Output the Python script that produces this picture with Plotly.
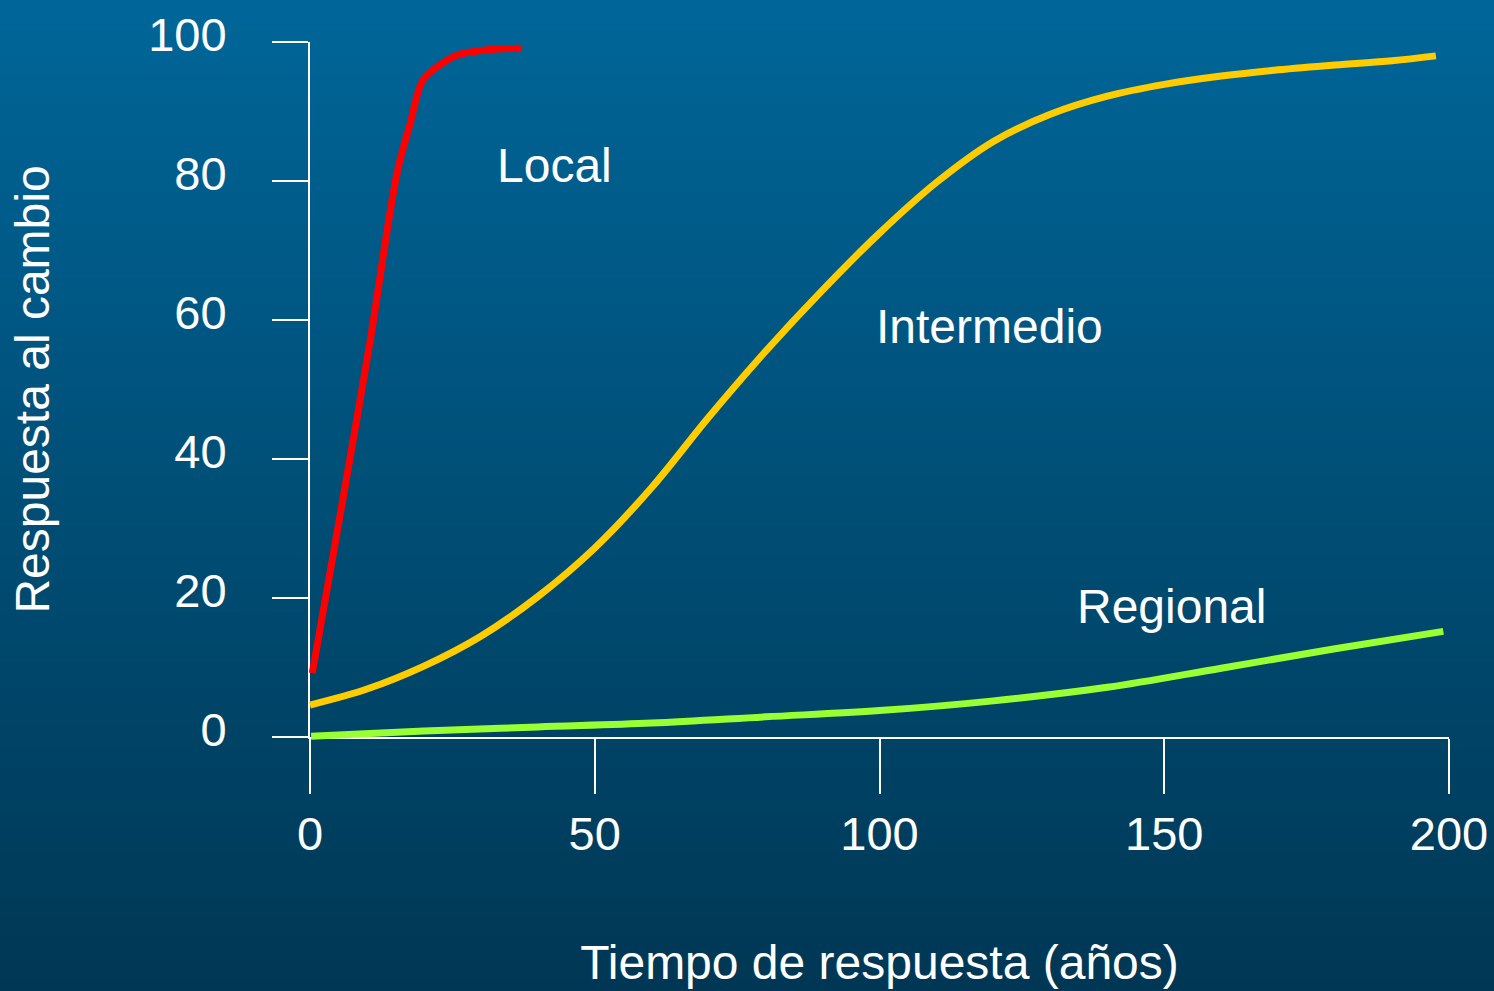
import plotly.graph_objects as go

# ---------------- data ----------------
local_x = [0.4, 5, 10.5, 15.3, 17.6, 19.8, 22.3, 25.8, 30.4, 37.2]
local_y = [9.2, 30.6, 56.7, 81.2, 88.3, 94.5, 96.4, 98.1, 98.8, 99.1]

inter_x = [0, 10, 20, 30, 40, 50, 60, 70, 80, 90, 100, 110, 120, 130, 140,
           150, 160, 170, 180, 190, 197.7]
inter_y = [4.6, 6.9, 10.2, 14.5, 20.2, 27.2, 35.9, 46.0, 55.5, 64.3, 72.5, 79.8,
           85.7, 89.6, 92.2, 93.9, 95.1, 96.0, 96.7, 97.3, 98.0]

reg_x = [0.2, 20, 40, 60, 80, 100, 120, 140, 160, 180, 199]
reg_y = [0.1, 0.85, 1.45, 2.0, 2.9, 3.8, 5.2, 7.15, 9.9, 12.7, 15.2]

x_ticks = [0, 50, 100, 150, 200]
y_ticks = [0, 20, 40, 60, 80, 100]

labels = ["Local", "Intermedio", "Regional"]
label_x = [43.0, 119.3, 151.2]
label_y = [82.3, 59.1, 18.8]

x_title = "Tiempo de respuesta (años)"
y_title = "Respuesta al cambio"

# ---------------- layout geometry ----------------
W, H = 1494, 991
ax_left, ax_right = 310, 1449     # pixel of x=0 and x=200
ax_top, ax_bottom = 42, 737       # pixel of y=100 and y=0
pad = 20                          # extra room so thick lines are not clipped
ml, mr, mt, mb = ax_left - pad, W - ax_right - pad, ax_top - pad, H - ax_bottom - pad
pw, ph = W - ml - mr, H - mt - mb

xr = (0, 200)
yr = (0, 100)
xs = (ax_right - ax_left) / (xr[1] - xr[0])
ys = (ax_bottom - ax_top) / (yr[1] - yr[0])

FONT = "Liberation Sans, Arial, sans-serif"
WHITE = "#FFFFFF"

fig = go.Figure()

line_w = 7
for xv, yv, col in [(local_x, local_y, "#FF0000"),
                    (inter_x, inter_y, "#FFCC00"),
                    (reg_x, reg_y, "#99FF33")]:
    fig.add_trace(go.Scatter(x=xv, y=yv, mode="lines", xaxis="x2", yaxis="y2",
                             line=dict(color=col, width=line_w, shape="spline", smoothing=1.0),
                             hoverinfo="skip", showlegend=False))

# background gradient
top_c = (0, 102, 153)
bot_c = (0, 55, 84)
N = 160
shapes = []
for k in range(N):
    py0 = k * H / N
    py1 = (k + 1) * H / N + 0.8
    t = (k + 0.5) / N
    c = tuple(round(top_c[i] + (bot_c[i] - top_c[i]) * t) for i in range(3))
    shapes.append(dict(type="rect", xref="paper", yref="paper", layer="below",
                       x0=-1, x1=2,
                       y0=(H - mb - py1) / ph, y1=(H - mb - py0) / ph,
                       fillcolor="rgb(%d,%d,%d)" % c, line=dict(width=0)))

annotations = [dict(x=lx, y=ly, xref="x", yref="y", text=t, showarrow=False,
                    font=dict(family=FONT, size=48, color=WHITE),
                    xanchor="center", yanchor="middle")
               for t, lx, ly in zip(labels, label_x, label_y)]

fig.update_layout(
    width=W, height=H,
    margin=dict(l=ml, r=mr, t=mt, b=mb, autoexpand=False),
    paper_bgcolor="rgb(0,80,120)",
    plot_bgcolor="rgba(0,0,0,0)",
    shapes=shapes,
    annotations=annotations,
    showlegend=False,
    xaxis=dict(domain=[(ax_left - ml) / pw, (ax_right - ml) / pw], range=list(xr),
               anchor="y", showgrid=False, zeroline=False,
               showline=True, linecolor=WHITE, linewidth=2,
               ticks="outside", ticklen=55, tickwidth=1.5, tickcolor=WHITE,
               tickvals=x_ticks, ticktext=[str(v) for v in x_ticks],
               ticklabelstandoff=0,
               tickfont=dict(family=FONT, size=47, color=WHITE),
               title=dict(text=x_title, standoff=86,
                          font=dict(family=FONT, size=48, color=WHITE)),
               fixedrange=True),
    yaxis=dict(domain=[(H - mb - ax_bottom) / ph, (H - mb - ax_top) / ph], range=list(yr),
               anchor="x", showgrid=False, zeroline=False,
               showline=True, linecolor=WHITE, linewidth=2,
               ticks="outside", ticklen=36, tickwidth=1.5, tickcolor=WHITE,
               tickvals=y_ticks, ticktext=[str(v) for v in y_ticks],
               ticklabelstandoff=36, ticklabelshift=-7,
               tickfont=dict(family=FONT, size=47, color=WHITE),
               title=dict(text=y_title, standoff=83,
                          font=dict(family=FONT, size=48, color=WHITE)),
               fixedrange=True),
    xaxis2=dict(domain=[0, 1], anchor="y2", visible=False, fixedrange=True,
                range=[xr[0] - (ax_left - ml) / xs, xr[1] + (ml + pw - ax_right) / xs]),
    yaxis2=dict(domain=[0, 1], anchor="x2", visible=False, fixedrange=True,
                range=[yr[0] - (mt + ph - ax_bottom) / ys, yr[1] + (ax_top - mt) / ys]),
)

fig.write_html("out.html",
               config={"displayModeBar": False},
               post_script="document.body.style.margin='0';document.body.style.overflow='hidden';")
